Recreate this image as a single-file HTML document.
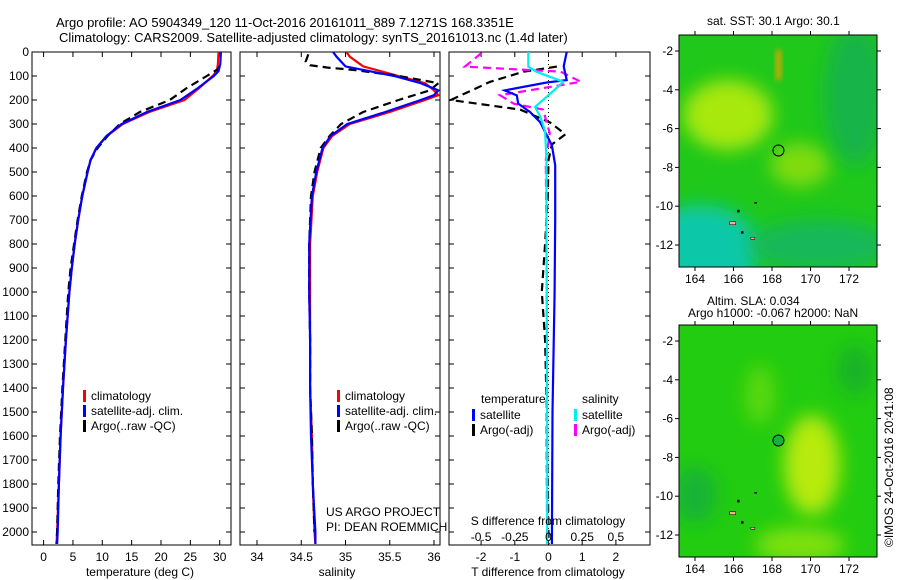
<!DOCTYPE html>
<html><head><meta charset="utf-8">
<style>
html,body{margin:0;padding:0;background:#fff;}
svg{display:block;font-family:"Liberation Sans",sans-serif;}
text{font-size:12px;fill:#000;}
.tt{font-size:13px;}
</style></head>
<body>
<svg id="fig" width="900" height="580" viewBox="0 0 900 580">
<defs>
<filter id="bl" x="-50%" y="-50%" width="200%" height="200%"><feGaussianBlur stdDeviation="9"/></filter>
<filter id="bl2" x="-50%" y="-50%" width="200%" height="200%"><feGaussianBlur stdDeviation="3"/></filter>
<clipPath id="c1"><rect x="32" y="52" width="199" height="493"/></clipPath>
<clipPath id="c2"><rect x="240" y="52" width="200" height="493"/></clipPath>
<clipPath id="c3"><rect x="449" y="52" width="201" height="493"/></clipPath>
<clipPath id="m1"><rect x="679" y="35" width="198" height="232"/></clipPath>
<clipPath id="m2"><rect x="679" y="325" width="198" height="232"/></clipPath>
</defs>
<text class="tt" x="56" y="27">Argo profile: AO 5904349_120 11-Oct-2016 20161011_889 7.1271S 168.3351E</text>
<text class="tt" x="59" y="42">Climatology: CARS2009. Satellite-adjusted climatology: synTS_20161013.nc (1.4d later)</text>

<g id="maps">
 <text x="707" y="25">sat. SST: 30.1 Argo: 30.1</text>
 <g clip-path="url(#m1)">
  <rect x="679" y="35" width="198" height="232" fill="#1fc81a"/>
  <ellipse cx="728" cy="115" rx="45" ry="35" fill="#a8e80a" filter="url(#bl)"/>
  <ellipse cx="800" cy="165" rx="30" ry="22" fill="#80dc10" filter="url(#bl)"/>
  <ellipse cx="855" cy="95" rx="30" ry="70" fill="#14b44a" filter="url(#bl)"/>
  <ellipse cx="700" cy="250" rx="60" ry="45" fill="#10c8a8" filter="url(#bl)"/>
  <ellipse cx="820" cy="245" rx="70" ry="25" fill="#16b85a" filter="url(#bl)"/>
  <rect x="776" y="50" width="5" height="30" fill="#f0a000" filter="url(#bl2)"/>
 </g>
 <rect x="679" y="35" width="198" height="232" fill="none" stroke="#000"/>
 <text x="707" y="305">Altim. SLA: 0.034</text>
 <text x="688" y="317">Argo h1000: -0.067 h2000: NaN</text>
 <g clip-path="url(#m2)">
  <rect x="679" y="325" width="198" height="232" fill="#22cc10"/>
  <ellipse cx="812" cy="465" rx="28" ry="50" fill="#b8ea08" filter="url(#bl)"/>
  <ellipse cx="760" cy="395" rx="15" ry="30" fill="#5ad80c" filter="url(#bl)"/>
  <ellipse cx="695" cy="495" rx="22" ry="28" fill="#14b434" filter="url(#bl)"/>
  <ellipse cx="855" cy="370" rx="18" ry="25" fill="#16b428" filter="url(#bl)"/>
  <ellipse cx="800" cy="545" rx="45" ry="18" fill="#7ee00c" filter="url(#bl)"/>
 </g>
 <rect x="679" y="325" width="198" height="232" fill="none" stroke="#000"/>
 <text transform="translate(893,547) rotate(-90)">©IMOS 24-Oct-2016 20:41:08</text>
</g>

<g id="p1"></g>
<g id="p2"></g>
<g id="p3"></g>
</svg>
<script>
// ---- data ----
const tDepth = [0,50,80,100,150,200,250,300,350,400,450,500,600,700,800,900,1000,1200,1400,1600,1800,2000,2050];
const tClim  = [29.8,29.7,29.5,28.8,26.5,24,18,13.5,10.8,9,8,7.5,6.6,5.9,5.3,4.8,4.4,3.8,3.3,2.9,2.6,2.3,2.2];
const tSat   = [30.2,30.1,29.8,29,26.3,23.3,17.6,13.3,10.7,9,8,7.5,6.6,5.9,5.3,4.8,4.4,3.8,3.3,2.9,2.6,2.4,2.3];
const aDepth = [60,70,100,150,200,250,300,350,400,450,500,600,700,800,900,1000,1200,1400,1600,1800,2000,2050];
const tArgo  = [29.9,29.8,27.8,24.4,21.5,16.4,13,10.9,9.2,8,7.4,6.5,5.8,5.2,4.6,4.2,3.7,3.2,2.8,2.5,2.3,2.2];
const sDepth = [0,20,60,100,130,160,180,200,250,300,350,400,500,600,800,1000,1200,1400,1600,1800,2000,2050];
const sClim  = [35.01,35.05,35.2,35.6,35.9,36.0,36.05,35.9,35.5,35.05,34.85,34.75,34.68,34.63,34.6,34.6,34.6,34.6,34.62,34.63,34.65,34.66];
const sSat   = [34.86,34.9,35.0,35.55,35.85,36.05,36.0,35.85,35.45,35.02,34.83,34.74,34.67,34.62,34.59,34.59,34.6,34.6,34.61,34.63,34.66,34.66];
const saDepth= [10,40,55,65,75,100,130,160,200,250,300,350,400,500,600,800,1000,1200,1400,1600,1800,2000];
const sArgo  = [34.58,34.55,34.6,34.8,35.1,35.6,36.05,35.95,35.6,35.2,34.95,34.82,34.72,34.65,34.61,34.59,34.59,34.6,34.6,34.62,34.63,34.65];
const dDepth = [0,60,117,127,160,181,215,250,292,347,389,472,700,1000,1500,2050];
const dTSat  = [0.54,0.45,0.54,-0.05,-1.3,-0.94,-0.9,-0.55,-0.25,-0.05,0.1,0.2,0.2,0.18,0.12,0.1];
const dTDepth= [61,82,124,200,240,294,343,385,450,600,800,1000,1200,1500,2000,2050];
const dTArgo = [0.25,-0.74,-1.73,-2.9,-0.84,0.05,0.5,0.1,0,-0.02,-0.1,-0.2,-0.1,-0.05,0,0];
const dSDepth= [0,61,82,124,160,229,271,330,450,800,1200,1600,2050];
const dSSat  = [-0.15,-0.15,-0.09,0.11,0.04,-0.1,-0.06,-0.025,-0.015,-0.015,-0.012,-0.01,-0.01];
const dSADepth=[6,61,82,124,180,215,240,339,450,800,1200,1600,2050];
const dSArgo = [-0.5,-0.62,0.09,0.24,-0.36,-0.26,-0.04,0.01,-0.02,-0.015,-0.012,-0.015,-0.01];
const depthTicks=[0,100,200,300,400,500,600,700,800,900,1000,1100,1200,1300,1400,1500,1600,1700,1800,1900,2000];
const tTicks=[0,5,10,15,20,25,30];
const sTicks=[34,34.5,35,35.5,36];
const dTicks=[-2,-1,0,1,2];
const dsTicks=[-0.5,-0.25,0,0.25,0.5];

// ---- scales ----
const y=d=>52+d*0.24;
const xT=v=>43.6+v*5.87;
const xS=v=>257+(v-34)*88.5;
const xD=v=>548.5+v*33.7;
const xDS=v=>xD(v*4);
const NS='http://www.w3.org/2000/svg';
function mk(tag,at,parent){const e=document.createElementNS(NS,tag);for(const k in at)e.setAttribute(k,at[k]);parent.appendChild(e);return e;}
function txt(parent,x0,y0,s,anchor){const t=mk('text',{x:x0,y:y0,'text-anchor':anchor||'start'},parent);t.textContent=s;return t;}
function line(parent,xs,ds,fx,color,dash,clip,name){
  const pts=xs.map((v,i)=>fx(v).toFixed(1)+','+y(ds[i]).toFixed(1)).join(' ');
  const p=mk('polyline',{points:pts,fill:'none',stroke:color,'stroke-width':2.2,'clip-path':'url(#'+clip+')'},parent);
  if(dash)p.setAttribute('stroke-dasharray',dash);
  
  
}
function frame(g,x0,x1,ticks,fx,labels,title,titleX){
  mk('rect',{x:x0,y:52,width:x1-x0,height:493,fill:'none',stroke:'#000'},g);
  ticks.forEach((t,i)=>{const X=fx(t);
    mk('line',{x1:X,y1:52,x2:X,y2:57,stroke:'#000'},g);
    mk('line',{x1:X,y1:545,x2:X,y2:540,stroke:'#000'},g);
    if(labels){const l=txt(g,X,561,labels[i],'middle');}
  });
  depthTicks.forEach(d=>{mk('line',{x1:x0,y1:y(d),x2:x0+5,y2:y(d),stroke:'#000'},g);mk('line',{x1:x1,y1:y(d),x2:x1-5,y2:y(d),stroke:'#000'},g);});
  const tt=txt(g,titleX,576,title,'middle');
  
  
}
function legend(g,x0,y0,items){
  items.forEach((it,i)=>{
    mk('rect',{x:x0,y:y0+i*15-9,width:3,height:12,fill:it[1]},g);
    const t=txt(g,x0+8,y0+i*15+1,it[0]);
    
    
  });
}
const p1=document.getElementById('p1'),p2=document.getElementById('p2'),p3=document.getElementById('p3');
frame(p1,32,231,tTicks,xT,tTicks.map(String),'temperature (deg C)',140);
depthTicks.forEach(d=>{const t=txt(p1,29,y(d)+4,String(d),'end');});
line(p1,tClim,tDepth,xT,'#f00',null,'c1','temp-climatology-line');
line(p1,tArgo,aDepth,xT,'#000','8,5','c1','temp-argo-line');
line(p1,tSat,tDepth,xT,'#00f',null,'c1','temp-satellite-line');
legend(p1,83,399,[['climatology','#f00'],['satellite-adj. clim.','#00f'],['Argo(..raw -QC)','#000']]);
frame(p2,240,440,sTicks,xS,['34','34.5','35','35.5','36'],'salinity',337);
line(p2,sClim,sDepth,xS,'#f00',null,'c2','sal-climatology-line');
line(p2,sArgo,saDepth,xS,'#000','8,5','c2','sal-argo-line');
line(p2,sSat,sDepth,xS,'#00f',null,'c2','sal-satellite-line');
legend(p2,337,399,[['climatology','#f00'],['satellite-adj. clim.','#00f'],['Argo(..raw -QC)','#000']]);
txt(p2,326,516,'US ARGO PROJECT');
txt(p2,326,531,'PI: DEAN ROEMMICH');
frame(p3,449,650,dTicks,xD,dTicks.map(String),'T difference from climatology',548);
mk('line',{x1:xD(0),y1:52,x2:xD(0),y2:545,stroke:'#000','stroke-dasharray':'1,3'},p3);
line(p3,dTArgo,dTDepth,xD,'#000','8,5','c3','tdiff-argo-line');
line(p3,dSArgo,dSADepth,xDS,'#f0f','8,5','c3','sdiff-argo-line');
line(p3,dTSat,dDepth,xD,'#00f',null,'c3','tdiff-satellite-line');
line(p3,dSSat,dSDepth,xDS,'#0ee','','c3','sdiff-satellite-line');
txt(p3,481,403,'temperature');
txt(p3,582,403,'salinity');
legend(p3,472,418,[['satellite','#00f'],['Argo(-adj)','#000']]);
legend(p3,574,418,[['satellite','#0ee'],['Argo(-adj)','#f0f']]);
txt(p3,548,525,'S difference from climatology','middle');
dsTicks.forEach(v=>{const t=txt(p3,xDS(v),541,String(v),'middle');});
const mg=document.getElementById('maps');
const lonTicks=[164,166,168,170,172], latTicks=[-2,-4,-6,-8,-10,-12];
const xL=v=>695+(v-164)*19.25;
[[35,267],[325,557]].forEach(([t0,t1],k)=>{
  const yL=v=>t0+16+(-2-v)*19.4;
  lonTicks.forEach(v=>{mk('line',{x1:xL(v),y1:t0-4,x2:xL(v),y2:t0,stroke:'#000'},mg);mk('line',{x1:xL(v),y1:t1,x2:xL(v),y2:t1+4,stroke:'#000'},mg);
    const l=txt(mg,xL(v),t1+16,String(v),'middle');});
  latTicks.forEach(v=>{mk('line',{x1:675,y1:yL(v),x2:679,y2:yL(v),stroke:'#000'},mg);mk('line',{x1:877,y1:yL(v),x2:881,y2:yL(v),stroke:'#000'},mg);
    const l=txt(mg,673,yL(v)+4,String(v),'end');});
  const c=mk('circle',{cx:xL(168.335),cy:yL(-7.127),r:5.5,fill:k?'#12b43c':'none',stroke:'#000'},mg);
  
  
  [[165.8,-10.8,6,3,'#f4b090'],[166.9,-11.6,4,2,'#f4b090'],[166.4,-11.3,2,2,'#000'],[167.1,-9.8,2,1,'#000'],[166.2,-10.2,2,2,'#000']].forEach(a=>mk('rect',{x:xL(a[0]),y:yL(a[1]),width:a[2],height:a[3],fill:a[4],stroke:'#000','stroke-width':0.5},mg));
});
</script>
</body></html>
